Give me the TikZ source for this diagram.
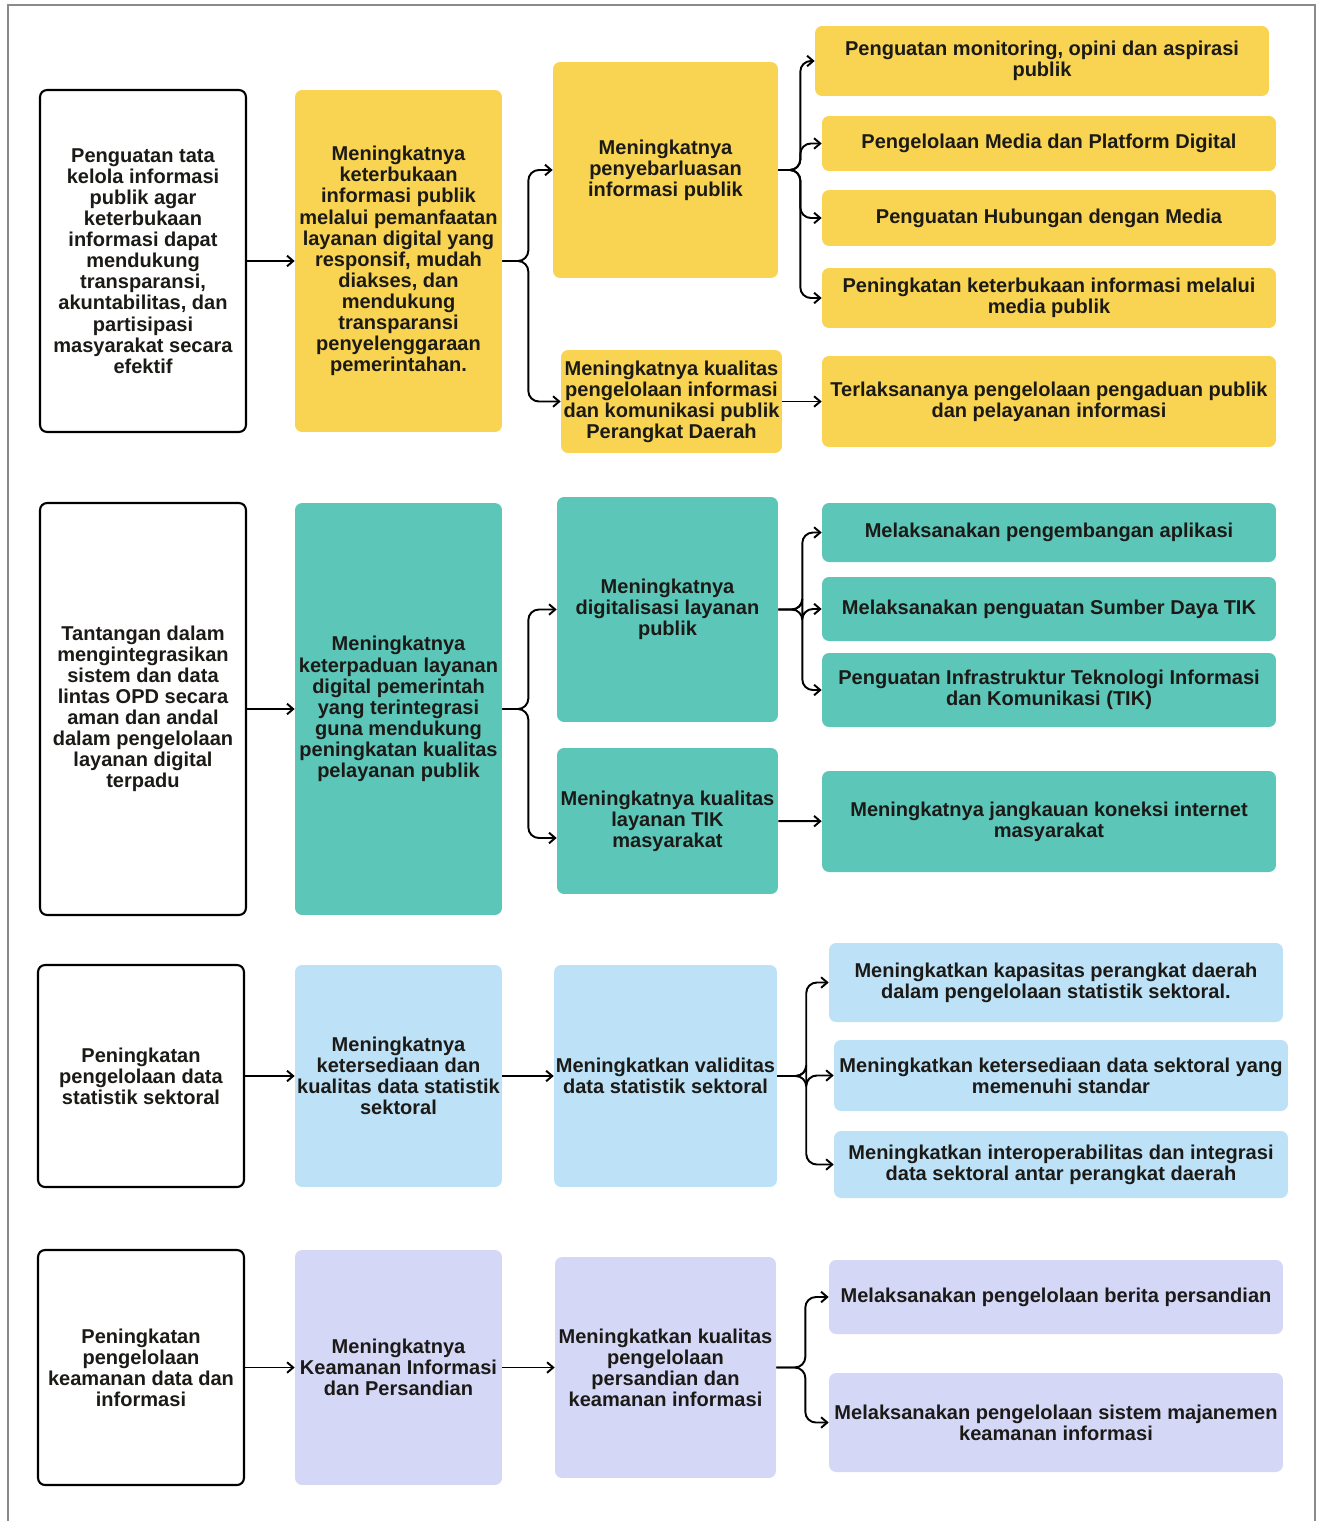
\documentclass[tikz,border=0pt]{standalone}
\usepackage{fontspec}
\setmainfont{Liberation Sans}
\usetikzlibrary{arrows.meta}
\definecolor{kuningbg}{HTML}{F8D452}
\definecolor{tosca}{HTML}{5CC6B9}
\definecolor{birumuda}{HTML}{BDE2F7}
\definecolor{ungu}{HTML}{D5D7F7}
\definecolor{tinta}{HTML}{1C1A17}
\definecolor{bingkai}{HTML}{8A8A8A}

\begin{document}
\begin{tikzpicture}[
    x=0.02cm, y=-0.02cm,
    kotak/.style={
      rectangle, rounded corners=4pt, inner sep=1pt,
      align=center, text=tinta,
      font=\fontsize{11.4}{12}\selectfont\bfseries
    },
    awal/.style={kotak, draw=black, line width=1.2pt, fill=white},
    kuning/.style={kotak, fill=kuningbg},
    hijau/.style={kotak, fill=tosca},
    biru/.style={kotak, fill=birumuda},
    lila/.style={kotak, fill=ungu},
    panah/.style={
      -{Straight Barb[length=3.5pt,width=6pt]},
      line width=1.1pt, rounded corners=6pt
    }
  ]
  \useasboundingbox (0,0) rectangle (1318,1521);
  \draw[bingkai, line width=0.8pt] (8,1521) -- (8,5) -- (1315,5) -- (1315,1521);

  % baris 1: informasi publik
  \node[awal, minimum width=4.12cm, minimum height=6.84cm] (a1) at (143,261)
    {Penguatan tata\\kelola informasi\\publik agar\\keterbukaan\\informasi dapat\\mendukung\\transparansi,\\akuntabilitas, dan\\partisipasi\\masyarakat secara\\efektif};
  \node[kuning, minimum width=4.14cm, minimum height=6.84cm] (b1) at (398.5,261)
    {Meningkatnya\\keterbukaan\\informasi publik\\melalui pemanfaatan\\layanan digital yang\\responsif, mudah\\diakses, dan\\mendukung\\transparansi\\penyelenggaraan\\pemerintahan.};
  \node[kuning, minimum width=4.5cm, minimum height=4.32cm] (c1a) at (665.5,170)
    {Meningkatnya\\penyebarluasan\\informasi publik};
  \node[kuning, minimum width=4.42cm, minimum height=2.06cm] (c1b) at (671.5,401.5)
    {Meningkatnya kualitas\\pengelolaan informasi\\dan komunikasi publik\\Perangkat Daerah};
  \node[kuning, minimum width=9.08cm, minimum height=1.4cm] (d1a) at (1042,61)
    {Penguatan monitoring, opini dan aspirasi\\publik};
  \node[kuning, minimum width=9.08cm, minimum height=1.1cm] (d1b) at (1049,143.5)
    {Pengelolaan Media dan Platform Digital};
  \node[kuning, minimum width=9.08cm, minimum height=1.12cm] (d1c) at (1049,218)
    {Penguatan Hubungan dengan Media};
  \node[kuning, minimum width=9.08cm, minimum height=1.2cm] (d1d) at (1049,298)
    {Peningkatan keterbukaan informasi melalui\\media publik};
  \node[kuning, minimum width=9.08cm, minimum height=1.82cm] (d1e) at (1049,401.5)
    {Terlaksananya pengelolaan pengaduan publik\\dan pelayanan informasi};

  \draw[panah] (a1) -- (b1);
  \foreach \t in {c1a,c1b}
    \draw[panah] (b1.east) -- ++(26,0) |- (\t.west);
  \foreach \t in {d1a,d1b,d1c,d1d}
    \draw[panah] (c1a.east) -- ++(22,0) |- (\t.west);
  \draw[panah] (c1b) -- (d1e);

  % baris 2: layanan digital
  \node[awal, minimum width=4.12cm, minimum height=8.24cm] (a2) at (143,709)
    {Tantangan dalam\\mengintegrasikan\\sistem dan data\\lintas OPD secara\\aman dan andal\\dalam pengelolaan\\layanan digital\\terpadu};
  \node[hijau, minimum width=4.14cm, minimum height=8.24cm] (b2) at (398.5,709)
    {Meningkatnya\\keterpaduan layanan\\digital pemerintah\\yang terintegrasi\\guna mendukung\\peningkatan kualitas\\pelayanan publik};
  \node[hijau, minimum width=4.42cm, minimum height=4.5cm] (c2a) at (667.5,609.5)
    {Meningkatnya\\digitalisasi layanan\\publik};
  \node[hijau, minimum width=4.42cm, minimum height=2.92cm] (c2b) at (667.5,821)
    {Meningkatnya kualitas\\layanan TIK\\masyarakat};
  \node[hijau, minimum width=9.08cm, minimum height=1.18cm] (d2a) at (1049,532.5)
    {Melaksanakan pengembangan aplikasi};
  \node[hijau, minimum width=9.08cm, minimum height=1.28cm] (d2b) at (1049,609)
    {Melaksanakan penguatan Sumber Daya TIK};
  \node[hijau, minimum width=9.08cm, minimum height=1.48cm] (d2c) at (1049,690)
    {Penguatan Infrastruktur Teknologi Informasi\\dan Komunikasi (TIK)};
  \node[hijau, minimum width=9.08cm, minimum height=2.02cm] (d2d) at (1049,821.5)
    {Meningkatnya jangkauan koneksi internet\\masyarakat};

  \draw[panah] (a2) -- (b2);
  \draw[panah] (b2.east) -- ++(26,0) |- (c2a.west);
  \draw[panah] (b2.east) -- ++(26,0) |- ([yshift=-0.34cm]c2b.west);
  \foreach \t in {d2a,d2b,d2c}
    \draw[panah] (c2a.east) -- ++(24,0) |- (\t.west);
  \draw[panah] (c2b) -- (d2d);

  % baris 3: statistik sektoral
  \node[awal, minimum width=4.12cm, minimum height=4.44cm] (a3) at (141,1076)
    {Peningkatan\\pengelolaan data\\statistik sektoral};
  \node[biru, minimum width=4.14cm, minimum height=4.44cm] (b3) at (398.5,1076)
    {Meningkatnya\\ketersediaan dan\\kualitas data statistik\\sektoral};
  \node[biru, minimum width=4.42cm, minimum height=4.44cm] (c3) at (665.5,1076)
    {Meningkatkan validitas\\data statistik sektoral};
  \node[biru, minimum width=9.08cm, minimum height=1.58cm] (d3a) at (1056,982.5)
    {Meningkatkan kapasitas perangkat daerah\\dalam pengelolaan statistik sektoral.};
  \node[biru, minimum width=9.08cm, minimum height=1.42cm] (d3b) at (1061,1075.5)
    {Meningkatkan ketersediaan data sektoral yang\\memenuhi standar};
  \node[biru, minimum width=9.08cm, minimum height=1.34cm] (d3c) at (1061,1164.5)
    {Meningkatkan interoperabilitas dan integrasi\\data sektoral antar perangkat daerah};

  \draw[panah] (a3) -- (b3);
  \draw[panah] (b3) -- (c3);
  \foreach \t in {d3a,d3b,d3c}
    \draw[panah] (c3.east) -- ++(29,0) |- (\t.west);

  % baris 4: keamanan informasi
  \node[awal, minimum width=4.12cm, minimum height=4.7cm] (a4) at (141,1367.5)
    {Peningkatan\\pengelolaan\\keamanan data dan\\informasi};
  \node[lila, minimum width=4.14cm, minimum height=4.7cm] (b4) at (398.5,1367.5)
    {Meningkatnya\\Keamanan Informasi\\dan Persandian};
  \node[lila, minimum width=4.42cm, minimum height=4.42cm] (c4) at (665.5,1367.5)
    {Meningkatkan kualitas\\pengelolaan\\persandian dan\\keamanan informasi};
  \node[lila, minimum width=9.08cm, minimum height=1.48cm] (d4a) at (1056,1297)
    {Melaksanakan pengelolaan berita persandian};
  \node[lila, minimum width=9.08cm, minimum height=1.98cm] (d4b) at (1056,1422.5)
    {Melaksanakan pengelolaan sistem majanemen\\keamanan informasi};

  \draw[panah] (a4) -- (b4);
  \draw[panah] (b4) -- (c4);
  \foreach \t in {d4a,d4b}
    \draw[panah] (c4.east) -- ++(29,0) |- (\t.west);
\end{tikzpicture}
\end{document}
